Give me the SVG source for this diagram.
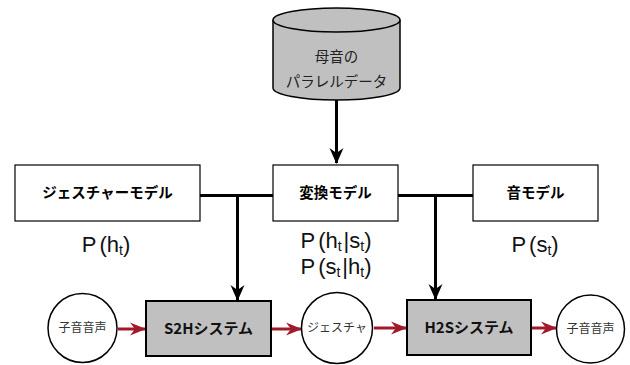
<svg xmlns="http://www.w3.org/2000/svg" width="630" height="365" viewBox="0 0 630 365">
  <defs>
    <marker id="ah-black" markerWidth="16" markerHeight="16" refX="15" refY="8" orient="auto" markerUnits="userSpaceOnUse" viewBox="0 0 16 16">
      <path d="M0,1 L16,8 L0,15 L5,8 Z" fill="#000"/>
    </marker>
    <marker id="ah-red" markerWidth="16" markerHeight="16" refX="15" refY="8" orient="auto" markerUnits="userSpaceOnUse" viewBox="0 0 16 16">
      <path d="M0,1.5 L16,8 L0,14.5 L5,8 Z" fill="#a11a2c"/>
    </marker>
    <style>
      .box { fill: #fff; stroke: #000; stroke-width: 1.2; }
      .sys { fill: #c0c0c0; stroke: #000; stroke-width: 2; }
      .circ { fill: #fff; stroke: #000; stroke-width: 1.5; }
      .lbl { font-family: "Noto Sans CJK JP", "Liberation Sans", sans-serif; font-weight: bold; font-size: 14.5px; fill: #000; text-anchor: middle; }
      .syslbl { font-family: "Noto Sans CJK JP", "Liberation Sans", sans-serif; font-weight: bold; font-size: 15px; fill: #111; text-anchor: middle; }
      .small { font-family: "Noto Sans CJK JP", sans-serif; font-size: 12px; fill: #333; text-anchor: middle; }
      .db { font-family: "Noto Sans CJK JP", sans-serif; font-size: 14.5px; fill: #222; text-anchor: middle; }
      .prob { font-family: "Liberation Sans", "DejaVu Sans", sans-serif; font-size: 22px; fill: #111; text-anchor: middle; }
      .sub { font-size: 14px; }
      .wire { stroke: #000; stroke-width: 3; fill: none; }
      .red { stroke: #a11a2c; stroke-width: 3; fill: none; }
    </style>
  </defs>

  <!-- connectors -->
  <g id="connectors">
    <line class="wire" x1="336.5" y1="100" x2="336.5" y2="163" marker-end="url(#ah-black)"/>
    <line class="wire" x1="200" y1="195.5" x2="273" y2="195.5"/>
    <line class="wire" x1="237.5" y1="195.5" x2="237.5" y2="300" marker-end="url(#ah-black)"/>
    <line class="wire" x1="398" y1="195.5" x2="473" y2="195.5"/>
    <line class="wire" x1="435.5" y1="195.5" x2="435.5" y2="299" marker-end="url(#ah-black)"/>
    <line class="red" x1="118" y1="329" x2="145" y2="329" marker-end="url(#ah-red)"/>
    <line class="red" x1="272" y1="329" x2="301" y2="329" marker-end="url(#ah-red)"/>
    <line class="red" x1="374" y1="328" x2="406" y2="328" marker-end="url(#ah-red)"/>
    <line class="red" x1="532" y1="328" x2="556" y2="328" marker-end="url(#ah-red)"/>
  </g>

  <!-- vowel parallel data store -->
  <g id="vowel-data">
    <path d="M273,20 L273,88 A63.5,12 0 0 0 400,88 L400,20" fill="#c0c0c0" stroke="#000" stroke-width="1.5"/>
    <ellipse cx="336.5" cy="20" rx="63.5" ry="12" fill="#c0c0c0" stroke="#000" stroke-width="1.5"/>
    <text class="db" x="336.5" y="62">母音の</text>
    <text class="db" x="336.5" y="87">パラレルデータ</text>
  </g>

  <g id="gesture-model">
    <rect class="box" x="15" y="165" width="185" height="56"/>
    <text class="lbl" x="107.5" y="198">ジェスチャーモデル</text>
    <text class="prob" x="106" y="252">P<tspan dx="3">(h</tspan><tspan class="sub" dy="3">t</tspan><tspan dy="-3">)</tspan></text>
  </g>

  <g id="conversion-model">
    <rect class="box" x="273" y="165" width="125" height="56"/>
    <text class="lbl" x="335.5" y="198">変換モデル</text>
    <text class="prob" x="336" y="248">P<tspan dx="3">(h</tspan><tspan class="sub" dy="3">t</tspan><tspan dy="-3" dx="2">|s</tspan><tspan class="sub" dy="3">t</tspan><tspan dy="-3">)</tspan></text>
    <text class="prob" x="336" y="274">P<tspan dx="3">(s</tspan><tspan class="sub" dy="3">t</tspan><tspan dy="-3" dx="2">|h</tspan><tspan class="sub" dy="3">t</tspan><tspan dy="-3">)</tspan></text>
  </g>

  <g id="sound-model">
    <rect class="box" x="473" y="165" width="125" height="56"/>
    <text class="lbl" x="535.5" y="198">音モデル</text>
    <text class="prob" x="535" y="252">P<tspan dx="3">(s</tspan><tspan class="sub" dy="3">t</tspan><tspan dy="-3">)</tspan></text>
  </g>

  <g id="consonant-in">
    <circle class="circ" cx="82.5" cy="328" r="34.5"/>
    <text class="small" x="82.5" y="332">子音音声</text>
  </g>

  <g id="s2h-system">
    <rect class="sys" x="146" y="301" width="125" height="55"/>
    <text class="syslbl" x="208.5" y="334">S2Hシステム</text>
  </g>

  <g id="gesture">
    <circle class="circ" cx="337" cy="328" r="35.5"/>
    <text class="small" x="337" y="332">ジェスチャ</text>
  </g>

  <g id="h2s-system">
    <rect class="sys" x="407" y="300" width="124" height="55"/>
    <text class="syslbl" x="469" y="333">H2Sシステム</text>
  </g>

  <g id="consonant-out">
    <circle class="circ" cx="590.5" cy="329" r="34"/>
    <text class="small" x="590.5" y="333">子音音声</text>
  </g>
</svg>
